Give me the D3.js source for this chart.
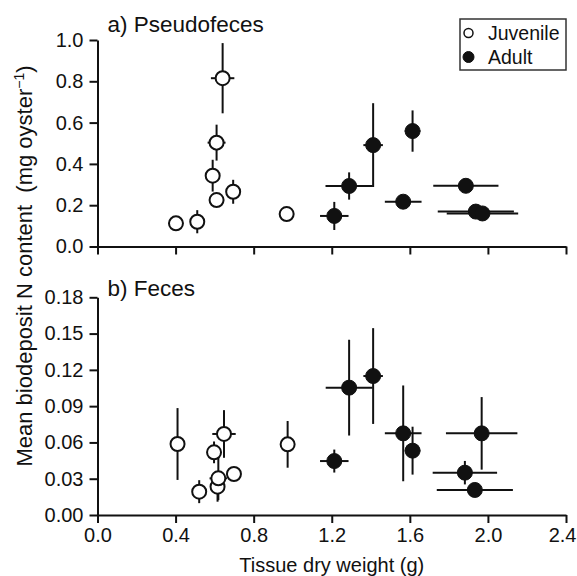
<!DOCTYPE html>
<html>
<head>
<meta charset="utf-8">
<script src="https://cdn.jsdelivr.net/npm/d3@7/dist/d3.min.js"></script>
<style>
  html, body { margin: 0; padding: 0; background: #fff; }
  svg text { font-family: "Liberation Sans", Arial, Helvetica, sans-serif; fill: #111; }
</style>
</head>
<body>
<svg id="chart" width="577" height="576"></svg>
<script>
// ---- Data ----
const xTicks = [0.0, 0.4, 0.8, 1.2, 1.6, 2.0, 2.4];
const yTicksPseudo = [0.0, 0.2, 0.4, 0.6, 0.8, 1.0];
const yTicksFeces = [0.00, 0.03, 0.06, 0.09, 0.12, 0.15, 0.18];

// Panel a) Pseudofeces
const juvPseudoWeight    = [0.402, 0.511, 0.590, 0.610, 0.610, 0.641, 0.695, 0.969];
const juvPseudoWeightErr = [0,     0,     0,     0,     0.046, 0.060, 0,     0];
const juvPseudoN         = [0.112, 0.120, 0.343, 0.225, 0.503, 0.815, 0.265, 0.157];
const juvPseudoNErr      = [0,     0.056, 0.077, 0,     0.087, 0.170, 0.058, 0];

const adPseudoWeight     = [1.213, 1.289, 1.412, 1.614, 1.566, 1.887, 1.938, 1.972];
const adPseudoWeightErr  = [0.073, 0.121, 0.050, 0.040, 0.094, 0.167, 0.195, 0.183];
const adPseudoN          = [0.148, 0.293, 0.491, 0.559, 0.217, 0.294, 0.169, 0.160];
const adPseudoNErr       = [0.068, 0.066, 0.203, 0.100, 0,     0,     0,     0];

// Panel b) Feces
const juvFecesWeight     = [0.410, 0.521, 0.597, 0.615, 0.619, 0.648, 0.699, 0.974];
const juvFecesWeightErr  = [0,     0,     0,     0,     0.045, 0.060, 0,     0];
const juvFecesN          = [0.0587, 0.0193, 0.0518, 0.0234, 0.0303, 0.0670, 0.0339, 0.0584];
const juvFecesNErr       = [0.0297, 0.0095, 0.0090, 0.0124, 0.0180, 0.0197, 0,      0.0193];

const adFecesWeight      = [1.213, 1.289, 1.412, 1.566, 1.614, 1.968, 1.882, 1.933];
const adFecesWeightErr   = [0.073, 0.120, 0.050, 0.094, 0.040, 0.183, 0.165, 0.195];
const adFecesN           = [0.0446, 0.1053, 0.1149, 0.0675, 0.0532, 0.0675, 0.0350, 0.0207];
const adFecesNErr        = [0.0095, 0.0396, 0.0396, 0.0396, 0.0198, 0.0300, 0.0097, 0];

const legendLabels = ["Juvenile", "Adult"];

// ---- Layout ----
const svg = d3.select("#chart");
const left = 97.5, right = 566;
const x = d3.scaleLinear().domain([0, 2.4]).range([left, right]);
const yA = d3.scaleLinear().domain([0, 1.0]).range([246.5, 40]);
const yB = d3.scaleLinear().domain([0, 0.18]).range([515, 297.3]);

function makeSeries(w, we, n, ne) {
  return w.map((d, i) => ({ x: d, xe: we[i], y: n[i], ye: ne[i] }));
}

function drawPanel(yScale, yTicks, fmt, showXLabels, juv, ad, title, titleY) {
  const g = svg.append("g");
  // y axis
  const yAxis = d3.axisLeft(yScale).tickValues(yTicks).tickFormat(d3.format(fmt))
    .tickSizeOuter(0).tickSizeInner(8).tickPadding(6);
  const ga = g.append("g").attr("transform", `translate(${left},0)`).call(yAxis);
  ga.select(".domain").attr("stroke", "#111").attr("stroke-width", 2);
  ga.selectAll(".tick line").attr("stroke", "#111").attr("stroke-width", 2);
  ga.selectAll(".tick text").style("font-size", "20px").attr("fill", "#111");

  // x axis
  const xAxis = d3.axisBottom(x).tickValues(xTicks).tickFormat(showXLabels ? d3.format(".1f") : "")
    .tickSizeOuter(0).tickSizeInner(8).tickPadding(5);
  const gx = g.append("g").attr("transform", `translate(0,${yScale(0)})`).call(xAxis);
  gx.select(".domain").attr("stroke", "#111").attr("stroke-width", 2);
  gx.selectAll(".tick line").attr("stroke", "#111").attr("stroke-width", 2);
  gx.selectAll(".tick text").style("font-size", "20px").attr("fill", "#111");
  // keep the last label inside the picture
  gx.selectAll(".tick").filter(d => d === 2.4).select("text")
    .attr("text-anchor", "end").attr("x", 10);

  // title
  g.append("text").attr("x", left + 10).attr("y", titleY)
    .style("font-size", "22.5px").text(title);

  // error bars + points
  const all = [...juv.map(d => ({...d, t: "j"})), ...ad.map(d => ({...d, t: "a"}))];
  const eb = g.append("g").attr("stroke", "#111").attr("stroke-width", 2);
  all.filter(d => d.xe > 0).forEach(d => {
    eb.append("line").attr("x1", x(d.x - d.xe)).attr("x2", x(d.x + d.xe))
      .attr("y1", yScale(d.y)).attr("y2", yScale(d.y));
  });
  all.filter(d => d.ye > 0).forEach(d => {
    eb.append("line").attr("x1", x(d.x)).attr("x2", x(d.x))
      .attr("y1", yScale(d.y - d.ye)).attr("y2", yScale(d.y + d.ye));
  });
  g.append("g").selectAll("circle").data(all).join("circle")
    .attr("cx", d => x(d.x)).attr("cy", d => yScale(d.y))
    .attr("r", d => d.t === "j" ? 7 : 7.5)
    .attr("fill", d => d.t === "j" ? "#fff" : "#111")
    .attr("stroke", "#111").attr("stroke-width", d => d.t === "j" ? 2 : 1);
}

drawPanel(yA, yTicksPseudo, ".1f", false,
  makeSeries(juvPseudoWeight, juvPseudoWeightErr, juvPseudoN, juvPseudoNErr),
  makeSeries(adPseudoWeight, adPseudoWeightErr, adPseudoN, adPseudoNErr),
  "a) Pseudofeces", 31.5);

drawPanel(yB, yTicksFeces, ".2f", true,
  makeSeries(juvFecesWeight, juvFecesWeightErr, juvFecesN, juvFecesNErr),
  makeSeries(adFecesWeight, adFecesWeightErr, adFecesN, adFecesNErr),
  "b) Feces", 296);

// axis titles
svg.append("text").attr("x", (left + right) / 2).attr("y", 571.5)
  .attr("text-anchor", "middle").style("font-size", "20px").text("Tissue dry weight (g)");

const yt = svg.append("text")
  .attr("transform", "translate(31.5,266) rotate(-90)")
  .attr("text-anchor", "middle").style("font-size", "22px");
yt.append("tspan").text("Mean biodeposit N content\u00A0\u00A0(mg oyster");
yt.append("tspan").attr("dy", -8).style("font-size", "14px").text("\u22121");
yt.append("tspan").attr("dy", 8).text(")");

// legend
const lg = svg.append("g");
lg.append("rect").attr("x", 460).attr("y", 19).attr("width", 106).attr("height", 51)
  .attr("fill", "#fff").attr("stroke", "#333").attr("stroke-width", 1.5);
legendLabels.forEach((lab, i) => {
  const cy = 33 + i * 24;
  lg.append("circle").attr("cx", 468.5).attr("cy", cy).attr("r", i === 0 ? 4.5 : 5.5)
    .attr("fill", i === 0 ? "#fff" : "#111").attr("stroke", "#111").attr("stroke-width", i === 0 ? 1.5 : 1);
  lg.append("text").attr("x", 488).attr("y", cy + 6.5).style("font-size", "19.5px").text(lab);
});
</script>
</body>
</html>
